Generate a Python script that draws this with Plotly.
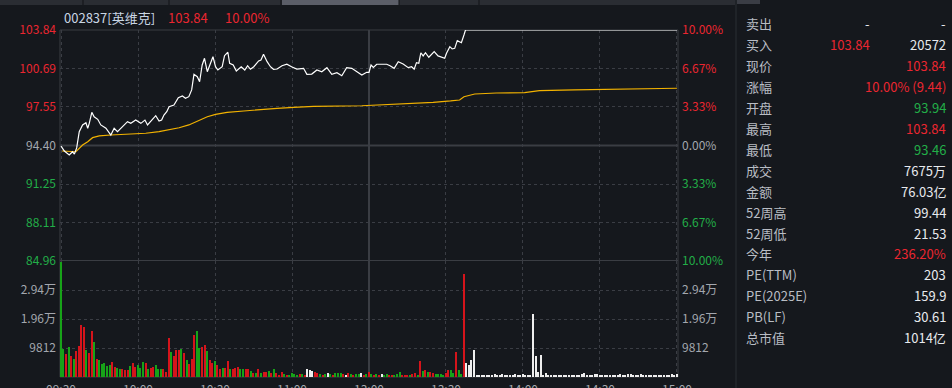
import plotly.graph_objects as go

# ---------------- data ----------------
stock_title = "002837[英维克]"
last_price_txt = "103.84"
last_change_txt = "10.00%"
prev_close = 94.40

price_ticks = [103.84, 100.69, 97.55, 94.40, 91.25, 88.11, 84.96]
pct_labels = ["10.00%", "6.67%", "3.33%", "0.00%", "3.33%", "6.67%", "10.00%"]
vol_ticks = [9812, 19624, 29436]
vol_labels = ["9812", "1.96万", "2.94万"]
vol_max = 39248
time_ticks = [0, 30, 60, 90, 120, 150, 180, 210, 240]
time_labels = ["09:30", "10:00", "10:30", "11:00", "13:00", "13:30", "14:00", "14:30", "15:00"]

price_minutes = [0, 1.3, 3.2, 4.5, 5.2, 6.1, 7.1, 8.4, 9.7, 10.4,
                 11.0, 12.0, 12.9, 14.3, 15.5, 17.5, 19.4, 20.7, 22.0, 24.0,
                 25.9, 27.2, 29.1, 31.1, 32.7, 33.7, 35.6, 36.9, 38.2, 39.2,
                 40.1, 41.2, 42.1, 44.0, 45.7, 47.3, 48.5, 49.8, 50.9, 51.8,
                 53.1, 54.0, 55.0, 55.9, 57.0, 58.3, 59.2, 60.2, 61.1, 62.8,
                 63.7, 65.0, 65.7, 67.1, 68.3, 70.2, 71.6, 72.7, 73.8, 75.1,
                 77.0, 77.9, 78.9, 80.3, 81.6, 82.8, 84.2, 86.1, 88.0, 90.0,
                 91.9, 94.5, 95.8, 97.7, 99.7, 101.6, 103.6, 105.5, 107.5, 109.4,
                 111.3, 113.3, 115.2, 117.2, 119.1, 120.0, 120.8, 121.7, 123.0, 126.9,
                 128.2, 129.8, 131.4, 133.3, 135.3, 136.6, 137.6, 138.5, 139.4, 140.2,
                 141.1, 142.0, 143.3, 145.4, 146.9, 149.5, 150.2, 151.5, 152.4, 153.4,
                 154.4, 156.0, 157.0, 157.6, 240]
price_values = [94.35, 93.95, 93.62, 93.89, 93.70, 94.20, 95.53, 96.08, 96.26, 95.81,
                96.21, 97.11, 96.75, 96.54, 96.08, 95.81, 95.26, 95.81, 95.53, 95.94,
                96.35, 96.21, 96.48, 96.21, 96.48, 96.08, 96.48, 96.84, 96.40, 96.48,
                96.89, 97.16, 97.57, 97.71, 98.31, 98.45, 98.26, 98.39, 98.94, 100.22,
                100.02, 99.61, 100.98, 101.53, 100.43, 101.25, 101.66, 100.84, 100.57, 100.84,
                101.74, 102.02, 101.12, 100.98, 100.49, 100.84, 100.57, 100.92, 100.63, 100.84,
                101.31, 101.39, 101.85, 101.25, 100.84, 100.63, 100.65, 100.92, 101.04, 100.82,
                100.65, 100.71, 100.22, 100.24, 100.57, 100.43, 100.76, 100.22, 100.35, 100.10,
                100.76, 100.71, 100.43, 100.16, 100.38, 100.38, 100.98, 100.79, 101.04, 101.04,
                100.92, 100.71, 101.25, 101.06, 100.76, 100.84, 100.63, 101.17, 101.12, 101.98,
                101.72, 101.98, 101.61, 102.07, 101.72, 101.53, 101.94, 102.48, 102.29, 102.34,
                102.97, 102.80, 103.43, 103.84, 103.84]

avg_minutes = [0.4, 5.8, 8.4, 10.4, 12.3, 14.9, 19.4, 27.8, 33.0, 38.2,
               42.1, 46.0, 49.8, 53.7, 57.0, 60.2, 64.7, 71.2, 77.7, 84.2,
               90.6, 98.4, 117.2, 128.8, 139.8, 145.0, 151.8, 155.3, 157.0, 159.2,
               161.2, 169.6, 180.6, 186.4, 200, 240]
avg_values = [93.95, 93.89, 94.44, 94.71, 95.04, 95.18, 95.26, 95.34, 95.40, 95.53,
              95.67, 95.85, 96.08, 96.43, 96.75, 96.95, 97.11, 97.22, 97.36, 97.44,
              97.52, 97.60, 97.65, 97.77, 97.85, 97.93, 98.04, 98.12, 98.39, 98.53,
              98.61, 98.69, 98.72, 98.88, 98.95, 99.08]

# per-minute volume (shares), 09:30 .. 15:00
volumes = [
    39000, 9470, 7780, 10050, 7000, 6090, 8690, 10390, 17690, 16810,
    9130, 8120, 15460, 11740, 6090, 5750, 4400, 4740, 3820, 4060,
    5180, 3280, 3040, 2710, 2710, 2370, 2370, 3720, 4630, 3280,
    4060, 3040, 4970, 4630, 2710, 2940, 3280, 4060, 2710, 2710,
    2710, 1800, 13190, 8560, 7210, 9240, 9240, 9470, 8020, 5750,
    4400, 6090, 14310, 15560, 9810, 10050, 10830, 8800, 5750, 4840,
    5250, 4100, 2740, 2970, 2970, 5480, 2620, 2740, 3190, 3540,
    2620, 2620, 2740, 2740, 2050, 1480, 1480, 2740, 1250, 1600,
    1830, 2170, 1480, 2620, 1250, 680, 1600, 910, 680, 680,
    1480, 910, 680, 910, 1030, 680, 2620, 2400, 2050, 1600,
    1250, 910, 680, 1030, 1480, 910, 680, 1250, 1480, 1480,
    910, 680, 1250, 910, 680, 1030, 910, 1250, 680, 910, 1830,
    910, 680, 910, 570, 910, 680, 910, 680, 680, 570,
    1030, 1600, 680, 680, 680, 570, 1030, 1480, 680, 5480,
    2050, 2400, 1600, 1600, 1480, 910, 910, 910, 680, 1250,
    2400, 2400, 1480, 8330, 2400, 910, 34800, 4900, 4100, 5590,
    9240,
    680, 570, 450, 570, 680, 450, 570, 910, 570, 680,
    1030, 570, 450, 680, 570, 910, 680, 570, 1030, 450,
    680, 570, 21300, 6960, 1830, 7300, 570, 1250, 680, 570,
    450, 680, 570, 450, 680, 570, 570, 680, 450, 570,
    680, 910, 1250, 570, 680, 450, 1030, 910, 570, 680,
    450, 570, 680, 450, 570, 680, 910, 450, 570, 1030,
    1030, 570, 450, 680, 910, 450, 570, 680, 450, 570,
    680, 450, 570, 680, 450, 570, 910, 450, 910,
]
# r = up, g = down, w = unchanged
vol_dirs = ("ggrgrgrrrr" "grrgrggggg" "rrggrrrgrr" "gggrgrrggg" "rrrgrrrgrg" "rrrggrrgrr"
            "grrgrrgrrr" "ggrrgrgrgr" "rgrgrrrgrg" "gggrgrwwwr"
            "rgrgwgrgggrwrgrggwrgr"
            "grgrwggrrg" "ggrrrgrrgr" "grgrrggggr" "rggrggrwww" "w"
            + "w" * 79)

panel_labels = ["卖出", "买入", "现价", "涨幅", "开盘", "最高", "最低", "成交", "金额",
                "52周高", "52周低", "今年", "PE(TTM)", "PE(2025E)", "PB(LF)", "总市值"]
panel_values = ["-", "20572", "103.84", "10.00% (9.44)", "93.94", "103.84", "93.46", "7675万", "76.03亿",
                "99.44", "21.53", "236.20%", "203", "159.9", "30.61", "1014亿"]
panel_colors = ["w", "w", "r", "r", "g", "r", "g", "w", "w",
                "w", "w", "r", "w", "w", "w", "w"]
panel_mid_values = {0: ("-", "w"), 1: ("103.84", "r")}

# ---------------- style ----------------
BG = "#15181d"
GRID = "#3a3d44"
FRAME = "#3a3d43"
RED = "#eb2630"
GREEN = "#22ae48"
GRAY = "#a3a7ae"
WHITE = "#e8eaee"
LABEL = "#b9bdc4"
BAR_RED = "#d5141b"
BAR_GREEN = "#17a318"
BAR_WHITE = "#eeeeee"
FONT = "Noto Sans CJK SC"

W, H = 952, 388
PL, PR, PT, PB = 60, 678, 30, 377   # plot area in pixels
SPLIT = 261                         # boundary between price and volume panes


def px_x(px):
    return (px - PL) / (PR - PL)


def px_y(py):
    return (PB - py) / (PB - PT)


def tick_color(v):
    if abs(v - prev_close) < 1e-6:
        return GRAY
    return RED if v > prev_close else GREEN


price_ticktext = ['<span style="color:%s">%.2f</span>' % (tick_color(v), v) for v in price_ticks]
pct_ticktext = ['<span style="color:%s">%s</span>' % (tick_color(v), t) for v, t in zip(price_ticks, pct_labels)]

cmap = {"r": BAR_RED, "g": BAR_GREEN, "w": BAR_WHITE}
bar_colors = [cmap[c] for c in vol_dirs[:len(volumes)]]
bar_x = list(range(len(volumes)))

fig = go.Figure()
fig.add_trace(go.Bar(x=bar_x, y=volumes, marker=dict(color=bar_colors, line=dict(width=0)),
                     width=0.55, xaxis="x", yaxis="y2", showlegend=False, hoverinfo="skip"))
fig.add_trace(go.Scatter(x=avg_minutes, y=avg_values, mode="lines",
                         line=dict(color="#f2b200", width=1.2), xaxis="x", yaxis="y",
                         showlegend=False, hoverinfo="skip"))
fig.add_trace(go.Scatter(x=price_minutes, y=price_values, mode="lines",
                         line=dict(color="#ffffff", width=1.2), xaxis="x", yaxis="y",
                         showlegend=False, hoverinfo="skip"))
# dummy traces so the right axes render
fig.add_trace(go.Scatter(x=[None], y=[None], xaxis="x", yaxis="y3", showlegend=False))
fig.add_trace(go.Scatter(x=[None], y=[None], xaxis="x", yaxis="y4", showlegend=False))

dom_split = px_y(SPLIT)
xrange = [-0.4, 240.4]

fig.update_layout(
    width=W, height=H, autosize=False,
    margin=dict(l=PL, r=W - PR, t=PT, b=H - PB, pad=0, autoexpand=False),
    paper_bgcolor=BG, plot_bgcolor=BG,
    font=dict(family=FONT, size=12, color=GRAY),
    bargap=0,
    xaxis=dict(domain=[0, 1], anchor="y2", range=xrange, tickvals=time_ticks, ticktext=time_labels,
               showgrid=True, gridcolor=GRID, griddash="dot", gridwidth=1, zeroline=False,
               showline=False, ticks="", ticklabelstandoff=4, automargin=False,
               tickfont=dict(size=12, color=GRAY)),
    yaxis=dict(domain=[dom_split, 1], anchor="x", range=[price_ticks[-1], price_ticks[0]],
               tickvals=price_ticks, ticktext=price_ticktext, showgrid=True, gridcolor=GRID,
               griddash="dot", zeroline=False, ticks="", ticklabelstandoff=3, automargin=False,
               tickfont=dict(size=12)),
    yaxis3=dict(overlaying="y", side="right", anchor="x", range=[price_ticks[-1], price_ticks[0]],
                tickvals=price_ticks, ticktext=pct_ticktext, showgrid=False, zeroline=False,
                ticks="", ticklabelstandoff=3, automargin=False, tickfont=dict(size=12)),
    yaxis2=dict(domain=[0, dom_split], anchor="x", range=[0, vol_max], tickvals=vol_ticks,
                ticktext=vol_labels, showgrid=True, gridcolor=GRID, griddash="dot", zeroline=False,
                ticks="", ticklabelstandoff=3, automargin=False, tickfont=dict(size=12, color=GRAY)),
    yaxis4=dict(overlaying="y2", side="right", anchor="x", range=[0, vol_max], tickvals=vol_ticks,
                ticktext=vol_labels, showgrid=False, zeroline=False, ticks="", ticklabelstandoff=3,
                automargin=False, tickfont=dict(size=12, color=GRAY)),
)

shapes = []
# frame
shapes.append(dict(type="rect", xref="paper", yref="paper", x0=0, x1=1, y0=0, y1=1,
                   line=dict(color=FRAME, width=1), layer="between"))
# previous close line, pane split, midday line
shapes.append(dict(type="line", xref="paper", yref="y", x0=0, x1=1, y0=prev_close, y1=prev_close,
                   line=dict(color=FRAME, width=2), layer="between"))
shapes.append(dict(type="line", xref="paper", yref="y", x0=0, x1=1, y0=price_ticks[-1], y1=price_ticks[-1],
                   line=dict(color=FRAME, width=2), layer="between"))
shapes.append(dict(type="line", xref="x", yref="paper", x0=time_ticks[4], x1=time_ticks[4], y0=0, y1=1,
                   line=dict(color=FRAME, width=2), layer="between"))
# top tab bar
shapes.append(dict(type="rect", xref="paper", yref="paper", x0=px_x(0), x1=px_x(735), y0=px_y(5), y1=px_y(0),
                   fillcolor="#2a2d33", line=dict(width=0), layer="above"))
shapes.append(dict(type="rect", xref="paper", yref="paper", x0=px_x(282), x1=px_x(399), y0=px_y(5), y1=px_y(0),
                   fillcolor="#5b5e68", line=dict(width=0), layer="above"))
for sx in [83, 169, 281, 399, 479]:
    shapes.append(dict(type="line", xref="paper", yref="paper", x0=px_x(sx), x1=px_x(sx), y0=px_y(5), y1=px_y(0),
                       line=dict(color="#111317", width=1), layer="above"))
shapes.append(dict(type="rect", xref="paper", yref="paper", x0=px_x(737), x1=px_x(760), y0=px_y(4), y1=px_y(0),
                   fillcolor="#3a3d45", line=dict(width=0), layer="above"))
# right panel separator
shapes.append(dict(type="line", xref="paper", yref="paper", x0=px_x(736), x1=px_x(736), y0=px_y(388), y1=px_y(0),
                   line=dict(color="#2b2e35", width=1), layer="above"))
fig.update_layout(shapes=shapes)

ann = []
ann.append(dict(text=stock_title, x=px_x(62), y=px_y(17), xref="paper", yref="paper", xanchor="left",
                yanchor="middle", showarrow=False, font=dict(size=13, color="#c9d6e4", family=FONT)))
ann.append(dict(text=last_price_txt, x=px_x(166), y=px_y(17), xref="paper", yref="paper", xanchor="left",
                yanchor="middle", showarrow=False, font=dict(size=13, color=RED, family=FONT)))
ann.append(dict(text=last_change_txt, x=px_x(223), y=px_y(17), xref="paper", yref="paper", xanchor="left",
                yanchor="middle", showarrow=False, font=dict(size=13, color=RED, family=FONT)))

vcol = {"w": WHITE, "r": RED, "g": GREEN}
for i, (lab, val, col) in enumerate(zip(panel_labels, panel_values, panel_colors)):
    ry = 24 + i * 20.9
    ann.append(dict(text=lab, x=px_x(744), y=px_y(ry), xref="paper", yref="paper", xanchor="left",
                    yanchor="middle", showarrow=False, font=dict(size=13, color=LABEL, family=FONT)))
    ann.append(dict(text=val, x=px_x(948), y=px_y(ry), xref="paper", yref="paper", xanchor="right",
                    yanchor="middle", showarrow=False, font=dict(size=13, color=vcol[col], family=FONT)))
    if i in panel_mid_values:
        mv, mc = panel_mid_values[i]
        ann.append(dict(text=mv, x=px_x(872), y=px_y(ry), xref="paper", yref="paper", xanchor="right",
                        yanchor="middle", showarrow=False, font=dict(size=13, color=vcol[mc], family=FONT)))
fig.update_layout(annotations=ann)

fig.write_html("out.html", config={"displayModeBar": False},
               post_script="document.body.style.margin='0px';document.body.style.overflow='hidden';")
